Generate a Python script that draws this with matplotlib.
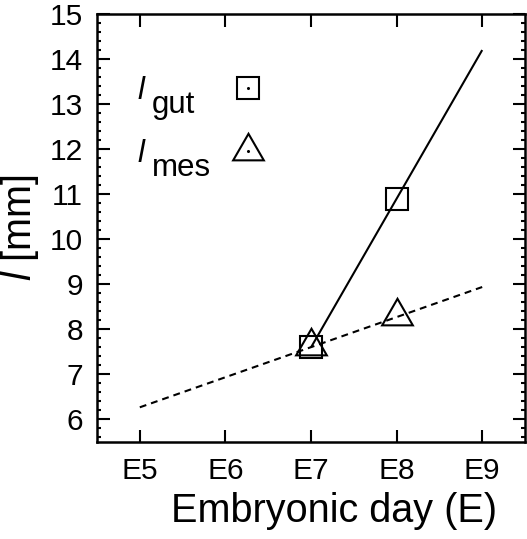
import matplotlib
matplotlib.use("Agg")
import matplotlib.pyplot as plt
from matplotlib.lines import Line2D
from matplotlib.ticker import MultipleLocator
from matplotlib.legend_handler import HandlerTuple

plt.rcParams['font.family'] = ['Liberation Sans', 'DejaVu Sans']
plt.rcParams['mathtext.fontset'] = 'custom'
plt.rcParams['mathtext.it'] = 'Liberation Sans:italic'
plt.rcParams['mathtext.rm'] = 'Liberation Sans'

# data
days = [7, 8]
l_gut = [7.6, 10.9]
l_mes = [7.63, 8.3]
gut_fit_x = [7, 9]
gut_fit_y = [7.6, 14.2]
mes_fit_x = [5, 9]
mes_fit_y = [6.27, 8.94]
xtick_vals = [5, 6, 7, 8, 9]
xtick_labels = ['E5', 'E6', 'E7', 'E8', 'E9']
ytick_vals = list(range(6, 16))
series_names = ['gut', 'mes']

TRI = (3, 0, 0)
SQ_MS = 15.5
TRI_MS = 25.5

fig = plt.figure(figsize=(5.27, 5.39), dpi=100)
ax = fig.add_axes([97/527, 1-442/539, 428/527, 428/539])

ax.plot(gut_fit_x, gut_fit_y, color='black', lw=1.5, solid_capstyle='butt')
ax.plot(mes_fit_x, mes_fit_y, color='black', lw=1.5, linestyle=(0, (3.3, 2.4)))
ax.plot(days, l_gut, linestyle='none', marker='s', ms=SQ_MS, mfc='none',
        mec='black', mew=1.5)
ax.plot(days, l_mes, linestyle='none', marker=TRI, ms=TRI_MS, mfc='none',
        mec='black', mew=1.5)

ax.set_xlim(4.5, 9.5)
ax.set_ylim(5.5, 15)
ax.set_xticks(xtick_vals)
ax.set_xticklabels(xtick_labels)
ax.set_yticks(ytick_vals)
ax.yaxis.set_minor_locator(MultipleLocator(0.2))
ax.tick_params(axis='both', which='major', direction='in', length=9, width=1.5,
               labelsize=21.5, top=True, right=True)
ax.tick_params(axis='y', which='minor', direction='in', length=3, width=1.5,
               left=True, right=True)
ax.tick_params(axis='y', which='major', pad=10)
ax.tick_params(axis='x', which='major', pad=11)
for s in ax.spines.values():
    s.set_linewidth(1.8)

ax.set_xlabel('Embryonic day (E)', fontsize=28.5)
ax.xaxis.set_label_coords(0.554, -0.116)
ax.set_ylabel(r'$\mathit{l}$ [mm]', fontsize=28.5)
ax.yaxis.set_label_coords(-0.132, 0.5)

dot1 = Line2D([], [], linestyle='none', marker='o', ms=1.2, color='black')
dot2 = Line2D([], [], linestyle='none', marker='o', ms=1.2, color='black')
sq_h = Line2D([], [], linestyle='none', marker='s', ms=SQ_MS, mfc='none', mec='black', mew=1.5)
tr_h = Line2D([], [], linestyle='none', marker=TRI, ms=TRI_MS, mfc='none', mec='black', mew=1.5)
leg = ax.legend([(sq_h, dot1), (tr_h, dot2)], ['l', 'l'],
                handler_map={tuple: HandlerTuple(ndivide=1, pad=0)},
                loc='upper left', bbox_to_anchor=(0.095, 0.856), frameon=False,
                markerfirst=False, fontsize=22.5, handlelength=2.0,
                handletextpad=2.3, labelspacing=1.08, borderpad=0,
                borderaxespad=0)
for t, name in zip(leg.get_texts(), series_names):
    t.set_fontstyle('italic')
    ax.annotate(name, xy=(1, 0), xycoords=t, xytext=(5, -5),
                textcoords='offset points', ha='left', va='baseline',
                fontsize=22.5, zorder=10)

fig.savefig('out.png', dpi=100)
